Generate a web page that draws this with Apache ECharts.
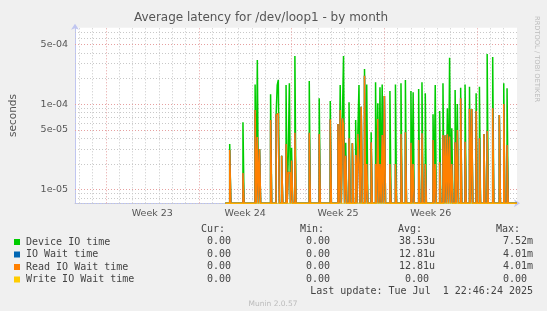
<!DOCTYPE html>
<html><head><meta charset="utf-8">
<script src="https://cdn.jsdelivr.net/npm/echarts@6/dist/echarts.min.js"></script>
<style>html,body{margin:0;padding:0;background:#f0f0f0;}#c{width:547px;height:311px;}</style>
</head><body><div id="c"></div>
<script>
// x values: hours since Mon 2025-06-02 00:00 (start of ISO week 23); RRD rows are 2 h apart
const spikeHours = [226,250,272,276,280,300,310,312,314,320,328,332,334,338,344,370,388,408,422,426,430,432,436,442,448,454,458,460,464,470,474,482,490,494,498,502,506,516,526,536,544,554,558,568,574,580,594,598,606,612,616,620,624,628,634,638,644,652,660,664,672,678,686,692,702,714,722,728];
const deviceIOTime = [3.43e-5,6.16e-5,1.71e-4,3.30e-4,3.0e-5,1.31e-4,7.5e-5,1.68e-4,1.93e-4,2.5e-5,1.68e-4,2.5e-5,1.76e-4,3.1e-5,3.68e-4,1.87e-4,1.18e-4,1.09e-4,5.88e-5,1.68e-4,6.85e-5,3.68e-4,3.55e-5,1.06e-4,3.5e-5,6.55e-5,4.7e-5,1.68e-4,9.37e-5,2.59e-4,1.71e-4,4.7e-5,1.81e-4,1.03e-4,1.58e-4,1.71e-4,1.25e-4,1.43e-4,1.71e-4,1.76e-4,1.93e-4,1.43e-4,1.38e-4,1.51e-4,1.81e-4,1.35e-4,7.64e-5,1.68e-4,8.35e-5,1.76e-4,4.3e-5,8.98e-5,3.51e-4,5.24e-5,1.47e-4,1.01e-4,1.56e-4,1.71e-4,1.61e-4,8.81e-5,1.35e-4,1.61e-4,4.5e-5,3.88e-4,3.58e-4,7.49e-5,1.76e-4,1.54e-4];
const readIOWaitTime = [2.92e-5,1.57e-5,8.58e-5,4.14e-5,3.0e-5,6.55e-5,7.5e-5,7.8e-5,4.8e-5,2.5e-5,3.43e-5,1.6e-5,1.57e-5,2.2e-5,4.65e-5,4.65e-5,4.49e-5,6.7e-5,5.88e-5,8.58e-5,6.85e-5,5.72e-5,2.5e-5,4.0e-5,3.5e-5,2.55e-5,4.49e-5,2.0e-5,9.37e-5,2.16e-4,2.0e-5,3.59e-5,2.0e-5,6.73e-5,2.0e-5,4.37e-5,1.25e-4,2.0e-5,2.0e-5,4.49e-5,4.7e-5,3.55e-5,2.0e-5,3.82e-5,4.57e-5,2.0e-5,3.82e-5,2.0e-5,2.09e-5,4.37e-5,4.3e-5,4.45e-5,4.2e-5,2.0e-5,3.59e-5,5.0e-5,1.18e-4,3.65e-5,8.81e-5,8.81e-5,8.35e-5,4.0e-5,4.5e-5,4.87e-5,8.98e-5,7.49e-5,1.01e-4,3.33e-5];
const ioWaitTime = readIOWaitTime;      // identical in the picture (write wait is 0)
const writeIOWaitTime = [];             // all zero
const dataStartHour = 216, dataEndHour = 744;

const seriesNames = ['Device IO time','IO Wait time','Read IO Wait time','Write IO Wait time'];
const seriesColors = ['#00CC00','#0066B3','#FF8000','#FFCC00'];
const curVals = ['0.00 ','0.00 ','0.00 ','0.00 '];
const minVals = ['0.00 ','0.00 ','0.00 ','0.00 '];
const avgVals = ['38.53u','12.81u','12.81u','0.00 '];
const maxVals = ['7.52m','4.01m','4.01m','0.00 '];
const colHeaders = ['Cur:','Min:','Avg:','Max:'];

const weekTickHours = [84,252,420,588];
const weekLabels = ['Week 23','Week 24','Week 25','Week 26'];
const weekLineHours = [0,168,336,504,672];
const yMajor = [1e-5,5e-5,1e-4,5e-4];
const yMajorLabels = ['1e-05','5e-05','1e-04','5e-04'];
const yMinor = [7e-6,8e-6,9e-6,2e-5,3e-5,4e-5,6e-5,7e-5,8e-5,9e-5,2e-4,3e-4,4e-4,6e-4,7e-4];

const X_MIN = -56, X_MAX = 744, Y_MIN = 6.93e-6, Y_MAX = 7.89e-4, STEP = 2;

function toSeries(values) {
  const m = new Map();
  spikeHours.forEach((h, i) => { if (values[i] > 0) m.set(h, values[i]); });
  const hs = new Set([dataStartHour, dataEndHour]);
  m.forEach((v, h) => { hs.add(h); if (!m.has(h - STEP)) hs.add(h - STEP); if (!m.has(h + STEP)) hs.add(h + STEP); });
  // zero is drawn on the floor of the log axis, as rrdtool does
  return [...hs].sort((a, b) => a - b).map(h => [h, m.has(h) ? m.get(h) : Y_MIN]);
}

const grey = '#c8c8c8', red = '#e6a0a0';
const gridLines = [];
for (let h = -48; h < X_MAX; h += 24) {
  if (weekLineHours.indexOf(h) < 0) gridLines.push({xAxis: h, lineStyle: {color: grey}});
}
yMinor.forEach(v => gridLines.push({yAxis: v, lineStyle: {color: grey}}));
weekLineHours.forEach(h => gridLines.push({xAxis: h, lineStyle: {color: red}}));
yMajor.forEach((v, i) => gridLines.push({yAxis: v, lineStyle: {color: red},
  label: {show: true, position: 'start', distance: 7, formatter: yMajorLabels[i],
    fontFamily: 'DejaVu Sans', fontSize: 9.5, color: '#555'}}));

const font = 'DejaVu Sans';
const mono = '10px "DejaVu Sans Mono"';
const colRight = [237, 336, 435, 533];
const headRight = [225, 324, 422, 520];
const rowY = [241.5, 254, 266.5, 279];
const graphics = [];
function txt(x, y, s, align, f, fill) {
  graphics.push({type: 'text', x: x, y: y, silent: true,
    style: {text: s, font: f, fill: fill, textAlign: align, align: align, textVerticalAlign: 'middle', verticalAlign: 'middle'}});
}
colHeaders.forEach((h, i) => txt(headRight[i], 229, h, 'right', mono, '#444'));
[curVals, minVals, avgVals, maxVals].forEach((col, c) => col.forEach((s, r) => txt(colRight[c], rowY[r], s, 'right', mono, '#444')));
txt(533, 291.8, 'Last update: Tue Jul  1 22:46:24 2025', 'right', mono, '#444');
txt(273, 304, 'Munin 2.0.57', 'center', '7.5px "DejaVu Sans"', '#bbbbbb');
graphics.push({type: 'text', x: 537, y: 16, rotation: -Math.PI / 2, silent: true,
  style: {text: 'RRDTOOL / TOBI OETIKER', font: '6.7px "DejaVu Sans"', fill: '#bbbbbb',
    textAlign: 'left', align: 'left', textVerticalAlign: 'middle', verticalAlign: 'middle'}});

const dataSets = [deviceIOTime, ioWaitTime, readIOWaitTime, null];
const series = [{
  type: 'line', name: '_grid', data: [], silent: true, z: 1,
  markLine: {silent: true, symbol: ['none', 'none'], z: 1, precision: 12, animation: false,
    label: {show: false}, lineStyle: {type: [1, 2], width: 1}, emphasis: {disabled: true},
    data: gridLines}
}];
seriesNames.forEach((n, i) => {
  const d = dataSets[i] ? toSeries(dataSets[i]) : [[dataStartHour, Y_MIN], [dataEndHour, Y_MIN]];
  series.push({type: 'line', name: n, data: d, showSymbol: false, symbol: 'none', step: 'start',
    color: seriesColors[i], lineStyle: {width: i === 3 ? 1 : 1.5, color: seriesColors[i]}, z: 3,
    animation: false, clip: true, emphasis: {disabled: true}, sampling: null});
});

const chart = echarts.init(document.getElementById('c'), null, {renderer: 'canvas'});
chart.setOption({
  backgroundColor: '#f0f0f0',
  animation: false,
  title: {text: 'Average latency for /dev/loop1 - by month', left: 261, textAlign: 'center', top: 12, padding: 0,
    textStyle: {fontFamily: font, fontSize: 12, fontWeight: 'normal', color: '#555'}},
  grid: {left: 67, right: 30, top: 27.7, bottom: 107.7, show: true, backgroundColor: '#ffffff', borderWidth: 0},
  legend: {data: seriesNames, orient: 'vertical', left: 14, top: 236, padding: 0, icon: 'rect', itemWidth: 6, itemHeight: 6,
    itemGap: 0.5, selectedMode: false,
    textStyle: {fontFamily: 'DejaVu Sans Mono', fontSize: 10, color: '#444', lineHeight: 12, padding: [0, 0, 0, 1]}},
  xAxis: {type: 'value', min: X_MIN, max: X_MAX, interval: 28,
    axisLine: {show: true, onZero: false, lineStyle: {color: '#c0c6f0', width: 1}, symbol: ['none', 'arrow'], symbolSize: [6, 6], symbolOffset: [0, 3]},
    axisTick: {show: false}, splitLine: {show: false},
    axisLabel: {margin: 5, fontFamily: font, fontSize: 9.5, color: '#555',
      formatter: v => { const i = weekTickHours.indexOf(Math.round(v)); return i >= 0 ? weekLabels[i] : ''; }}},
  yAxis: {type: 'log', logBase: 10, min: Y_MIN, max: Y_MAX, name: 'seconds', nameLocation: 'middle', nameGap: 56,
    nameTextStyle: {fontFamily: font, fontSize: 10.5, color: '#555'},
    axisLine: {show: true, onZero: false, lineStyle: {color: '#c0c6f0', width: 1}, symbol: ['none', 'arrow'], symbolSize: [6, 6], symbolOffset: [0, 4]},
    axisTick: {show: false}, splitLine: {show: false}, minorSplitLine: {show: false}, axisLabel: {show: false}},
  graphic: graphics,
  series: series
});
</script></body></html>
